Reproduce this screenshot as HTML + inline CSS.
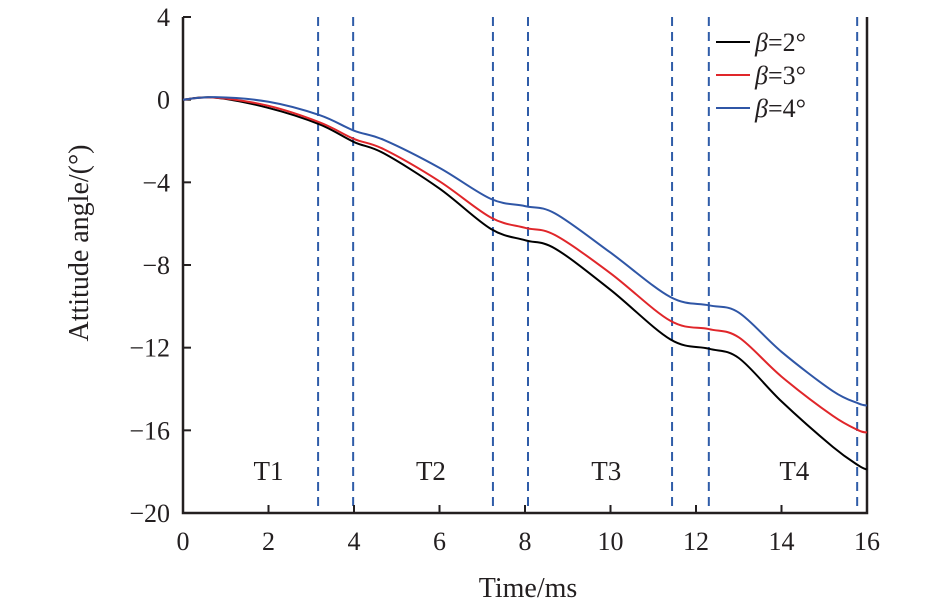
<!DOCTYPE html>
<html><head><meta charset="utf-8"><style>
body{margin:0;background:#fff;}
svg text{font-family:"Liberation Serif",serif;fill:#231f20;}
</style></head><body>
<svg width="945" height="610" xmlns="http://www.w3.org/2000/svg">
<g id="g"></g>
</svg>
<script>
const times=[0,0.75,2,3.2,4,4.7,6,7.2,8,8.7,10,11.4,12.3,13,14,15.2,15.8,16];
const beta2=[0,0.1,-0.4,-1.2,-2.05,-2.6,-4.3,-6.25,-6.8,-7.2,-9.2,-11.6,-12.05,-12.5,-14.6,-16.8,-17.7,-17.9];
const beta3=[0,0.1,-0.3,-1.1,-1.9,-2.4,-3.95,-5.7,-6.2,-6.55,-8.4,-10.7,-11.1,-11.5,-13.4,-15.3,-16.0,-16.1];
const beta4=[0,0.12,-0.1,-0.75,-1.5,-1.95,-3.3,-4.8,-5.15,-5.5,-7.4,-9.55,-9.95,-10.3,-12.2,-14.1,-14.7,-14.8];
const boundaries=[3.16,3.98,7.25,8.07,11.44,12.3,15.77];
const xTicks=[0,2,4,6,8,10,12,14,16];
const yTicks=[4,0,-4,-8,-12,-16,-20];
const phases=["T1","T2","T3","T4"];
const phaseX=[2,5.8,9.9,14.3];
const X=t=>183+t*(867-183)/16;
const Y=v=>17+(4-v)*(513-17)/24;
const NS="http://www.w3.org/2000/svg";
const g=document.getElementById('g');
function mk(tag,attrs,text){const e=document.createElementNS(NS,tag);for(const k in attrs)e.setAttribute(k,attrs[k]);if(text!==undefined)e.textContent=text;g.appendChild(e);return e;}
boundaries.forEach((b,i)=>{const e=mk('line',{x1:X(b),x2:X(b),y1:17,y2:513,stroke:'#2f5ca8','stroke-width':2,'stroke-dasharray':'9,6'});

});
let ax=mk('path',{d:`M183,17 V513 H867 V17`,fill:'none',stroke:'#231f20','stroke-width':2.5});


xTicks.forEach(t=>{mk('line',{x1:X(t),x2:X(t),y1:513,y2:505,stroke:'#231f20','stroke-width':2});
const e=mk('text',{x:X(t),y:550,'text-anchor':'middle','font-size':26},String(t));

});
yTicks.forEach(v=>{mk('line',{x1:183,x2:191,y1:Y(v),y2:Y(v),stroke:'#231f20','stroke-width':2});
const e=mk('text',{x:170,y:Y(v)+9,'text-anchor':'end','font-size':26},v<0?'\u2212'+(-v):String(v));

});
let xt=mk('text',{x:528,y:597,'text-anchor':'middle','font-size':28},'Time/ms');


let yt=mk('text',{x:0,y:0,'text-anchor':'middle','font-size':28,transform:'translate(88,243) rotate(-90)'},'Attitude angle/(°)');


phases.forEach((p,i)=>{const e=mk('text',{x:X(phaseX[i]),y:480,'text-anchor':'middle','font-size':27},p);

});
function path(vals){const p=times.map((t,i)=>[X(t),Y(vals[i])]);let d='M'+p[0][0]+','+p[0][1];
for(let i=0;i<p.length-1;i++){const p0=p[i-1]||p[i],p1=p[i],p2=p[i+1],p3=p[i+2]||p2;
d+=` C${p1[0]+(p2[0]-p0[0])/6},${p1[1]+(p2[1]-p0[1])/6} ${p2[0]-(p3[0]-p1[0])/6},${p2[1]-(p3[1]-p1[1])/6} ${p2[0]},${p2[1]}`;}return d;}
const series=[[beta2,'#000000','2'],[beta3,'#e0262a','3'],[beta4,'#2f56a6','4']];
series.forEach(([vals,c,b])=>{const e=mk('path',{d:path(vals),fill:'none',stroke:c,'stroke-width':2});

});
series.forEach(([vals,c,b],i)=>{const y=42+i*33;
const l=mk('line',{x1:716,x2:750,y1:y,y2:y,stroke:c,'stroke-width':2});


const t=mk('text',{x:755,y:y+9,'font-size':26});
t.innerHTML='<tspan font-style="italic">β</tspan>='+b+'°';

});
</script>
</body></html>
